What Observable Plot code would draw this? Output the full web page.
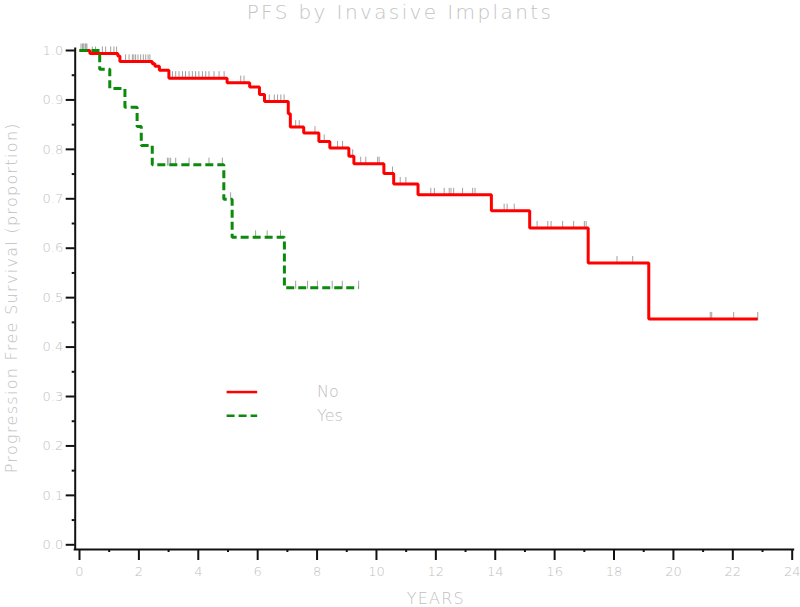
<!DOCTYPE html>
<html><head><meta charset="utf-8">
<script src="https://cdn.jsdelivr.net/npm/d3@7"></script>
<script src="https://cdn.jsdelivr.net/npm/@observablehq/plot@0.6"></script>
<style>
html,body{margin:0;padding:0;background:#fff;}
#title{width:800px;height:24px;line-height:25px;text-align:center;font-family:"DejaVu Sans",sans-serif;font-weight:200;font-size:20px;color:#c4c4c4;letter-spacing:2.4px;white-space:nowrap;}
#chart svg{display:block;}
</style></head><body>
<div id="title"></div>
<div id="chart"></div>
<script>
// ---- text ----
const title = "PFS by Invasive Implants";
const xLabel = "YEARS";
const yLabel = "Progression Free Survival (proportion)";
const groups = ["No", "Yes"];

// ---- tick values ----
const xMajor = [0,2,4,6,8,10,12,14,16,18,20,22,24];
const xMinor = [1,3,5,7,9,11,13,15,17,19,21,23];
const yMajor = [0,0.1,0.2,0.3,0.4,0.5,0.6,0.7,0.8,0.9,1.0];
const yMinor = [0.05,0.15,0.25,0.35,0.45,0.55,0.65,0.75,0.85,0.95];

// ---- group "No": step times and survival ----
const noTimes = [0,0.35,1.29,1.36,2.45,2.54,2.69,3.01,4.97,5.73,6.06,6.23,7.03,7.10,7.55,8.06,8.43,9.07,9.24,10.25,10.58,11.40,13.87,15.16,17.13,19.17,22.84];
const noSurv  = [1.0,0.994,0.989,0.978,0.973,0.968,0.960,0.944,0.935,0.926,0.911,0.897,0.872,0.845,0.833,0.816,0.803,0.786,0.771,0.751,0.730,0.708,0.676,0.641,0.570,0.457,0.457];
const noCensor = [0.05,0.1,0.15,0.2,0.25,0.43,0.54,0.77,0.88,1.05,1.16,1.25,
  1.55,1.67,1.78,1.83,1.89,1.97,2.06,2.15,2.23,2.31,2.37,
  3.13,3.24,3.35,3.47,3.57,3.69,3.80,3.91,4.02,4.14,4.25,4.36,4.53,4.70,4.87,
  5.43,5.54,6.39,6.56,6.67,6.78,6.89,7.28,7.40,7.93,8.24,8.69,8.86,9.20,
  9.47,9.64,10.04,10.09,10.54,10.80,10.99,
  11.83,11.95,12.28,12.45,12.51,12.60,12.90,13.24,13.32,
  14.30,14.40,14.64,15.41,15.77,15.88,16.27,16.64,17.00,17.06,
  18.10,18.63,21.24,21.29,22.03,22.84];

// ---- group "Yes": step times and survival ----
const yesTimes = [0,0.68,1.02,1.53,1.94,2.08,2.45,4.86,5.14,6.90,9.40];
const yesSurv  = [1.0,0.962,0.923,0.885,0.846,0.808,0.769,0.699,0.622,0.520,0.520];
const yesCensor = [0.12,0.22,2.96,3.01,3.07,3.24,3.69,4.36,4.81,5.09,5.93,6.32,6.77,7.28,7.68,8.01,8.51,8.85,9.40];

// ---- styles / layout ----
const colors = {No: "#ff0000", Yes: "#0b8a0b"};
const dashes = {No: null, Yes: "8,4"};
const legendLayout = {x1: 4.97, x2: 6.0, xText: 8.0, y: [0.309, 0.261]};
const textColor = "#c0c0c0";
const lightFont = "'DejaVu Sans', sans-serif";

document.getElementById("title").textContent = title;

const curves = [];
noTimes.forEach((t, i) => curves.push({group: "No", t, s: noSurv[i]}));
yesTimes.forEach((t, i) => curves.push({group: "Yes", t, s: yesSurv[i]}));

function levelAt(times, surv, t) {
  let s = surv[0];
  for (let i = 0; i < times.length; i++) if (times[i] <= t) s = surv[i];
  return s;
}
const censors = [];
noCensor.forEach(t => censors.push({group: "No", t, s: levelAt(noTimes, noSurv, t)}));
yesCensor.forEach(t => censors.push({group: "Yes", t, s: levelAt(yesTimes, yesSurv, t)}));

const censorSymbol = {draw(ctx) { ctx.moveTo(0, 1); ctx.lineTo(0, -7); }};

const legendRows = groups.map((g, i) => ({group: g, y: legendLayout.y[i]}));

const chart = Plot.plot({
  width: 800,
  height: 583,
  marginLeft: 79,
  marginRight: 8.3,
  marginTop: 26,
  marginBottom: 62.7,
  x: {domain: [0, 24], axis: null},
  y: {domain: [0, 1], axis: null},
  style: {background: "#fff", fontFamily: lightFont},
  marks: [
    // axis lines
    Plot.ruleY([0], {dy: 4.7, stroke: "#111", strokeWidth: 2, insetLeft: -5.3, insetRight: -2.5}),
    Plot.ruleX([0], {dx: -4.3, stroke: "#111", strokeWidth: 2, insetTop: -2.5, insetBottom: -5.7}),
    // x ticks
    Plot.axisX(xMajor, {tickSize: 11, tickPadding: 6, dy: 4.7, stroke: "#111", strokeWidth: 2,
      fill: textColor, fontSize: 13, fontWeight: 200, label: null, tickFormat: d => String(d)}),
    Plot.axisX(xMinor, {tickSize: 3, dy: 4.7, stroke: "#111", strokeWidth: 2, label: null, tickFormat: () => ""}),
    // y ticks
    Plot.axisY(yMajor, {tickSize: 9, tickPadding: 3, dx: -4.3, stroke: "#111", strokeWidth: 2,
      fill: textColor, fontSize: 13, fontWeight: 200, label: null, tickFormat: d3.format(".1f")}),
    Plot.axisY(yMinor, {tickSize: 3, dx: -4.3, stroke: "#111", strokeWidth: 2, label: null, tickFormat: () => ""}),
    // censor marks
    Plot.dot(censors, {x: "t", y: "s", symbol: censorSymbol, r: 3, fill: "none", stroke: "#a0a0a0", strokeWidth: 1}),
    // survival curves
    ...groups.map(g => Plot.line(curves.filter(d => d.group === g), {
      x: "t", y: "s", curve: "step-after", stroke: colors[g], strokeWidth: 3,
      strokeDasharray: dashes[g], strokeLinejoin: "miter", strokeLinecap: "butt"})),
    // legend
    ...legendRows.map(r => Plot.ruleY([r], {y: "y", x1: legendLayout.x1, x2: legendLayout.x2,
      stroke: colors[r.group], strokeWidth: 2.5, strokeDasharray: dashes[r.group]})),
    Plot.text(legendRows, {x: legendLayout.xText, y: "y", text: "group", textAnchor: "start",
      fill: textColor, fontSize: 16, fontWeight: 200}),
    // axis titles
    Plot.text([xLabel], {frameAnchor: "bottom", dy: 59, fill: textColor, fontSize: 16, fontWeight: 200}),
    Plot.text([yLabel], {frameAnchor: "left", textAnchor: "middle", dx: -68, rotate: -90, fill: textColor, fontSize: 16, fontWeight: 200})
  ]
});
// letter spacing for the wide axis titles
chart.querySelectorAll("text").forEach(el => {
  if (el.textContent === yLabel) el.style.letterSpacing = "1.3px";
  if (el.textContent === xLabel) el.style.letterSpacing = "1.2px";
});
document.getElementById("chart").appendChild(chart);
</script>
</body></html>
